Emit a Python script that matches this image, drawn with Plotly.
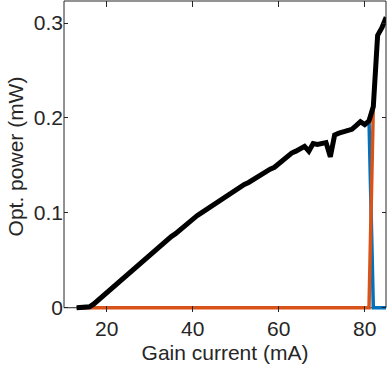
import plotly.graph_objects as go

# gain current (mA)
current = list(range(13, 86))

# total optical power (mW)
total = [
    0.000, 0.000, 0.000, 0.001, 0.004, 0.008, 0.012, 0.016, 0.020, 0.024,  # 13-22
    0.028, 0.032, 0.036, 0.040, 0.044, 0.048, 0.051, 0.055, 0.059, 0.063,  # 23-32
    0.067, 0.071, 0.075, 0.078, 0.082, 0.086, 0.090, 0.094, 0.097, 0.100,  # 33-42
    0.103, 0.107, 0.110, 0.113, 0.116, 0.119, 0.121, 0.124, 0.127, 0.130,  # 43-52
    0.132, 0.135, 0.138, 0.141, 0.144, 0.146, 0.148, 0.152, 0.155, 0.160,  # 53-62
    0.163, 0.165, 0.168, 0.170, 0.165, 0.173, 0.172, 0.173, 0.174, 0.159,  # 63-72
    0.182, 0.184, 0.185, 0.187, 0.188, 0.192, 0.196, 0.193, 0.197, 0.212,  # 73-82
    0.287, 0.295, 0.306,                                                   # 83-85
]

# power in each mode: blue until 81 mA, orange from 82 mA
mode_a = [p if c <= 81 else 0.0 for c, p in zip(current, total)]
mode_b = [0.0 if c <= 81 else p for c, p in zip(current, total)]

axis_col = "#262626"
x_lo, x_hi = 10.05, 84.95
y_hi = 0.3232
y_pad = -0.0045   # a little room under zero so the thick lines are not clipped
zero_frac = -y_pad / (y_hi - y_pad)

fig = go.Figure()
fig.add_trace(go.Scatter(x=current, y=mode_a, mode="lines",
                         line=dict(color="#0072BD", width=3.5)))
fig.add_trace(go.Scatter(x=current, y=mode_b, mode="lines",
                         line=dict(color="#D95319", width=3.5)))
fig.add_trace(go.Scatter(x=current, y=total, mode="lines",
                         line=dict(color="black", width=5)))

# axes box: left/top/right on top, bottom edge (at y = 0) under the traces
fig.add_shape(type="path", xref="paper", yref="paper",
              path=f"M 0,{zero_frac} L 0,1 L 1,1 L 1,{zero_frac}",
              line=dict(color=axis_col, width=1), layer="above")
fig.add_shape(type="line", xref="paper", yref="paper",
              x0=0, x1=1, y0=zero_frac, y1=zero_frac,
              line=dict(color=axis_col, width=1), layer="below")

fig.update_layout(
    width=391, height=378,
    margin=dict(l=64, r=5, t=1, b=66, autoexpand=False),
    paper_bgcolor="white", plot_bgcolor="rgba(0,0,0,0)",
    showlegend=False,
    font=dict(family="Liberation Sans, Arial, sans-serif", size=21, color=axis_col),
)
fig.update_xaxes(
    range=[x_lo, x_hi], tickvals=[20, 40, 60, 80],
    showgrid=False, zeroline=False, showline=False, mirror="ticks",
    ticks="inside", ticklen=6, tickcolor=axis_col, ticklabelstandoff=2,
    title=dict(text="Gain current (mA)", font=dict(size=21), standoff=6),
)
fig.update_yaxes(
    range=[y_pad, y_hi], tickvals=[0, 0.1, 0.2, 0.3],
    showgrid=False, zeroline=False, showline=False, mirror="ticks",
    ticks="inside", ticklen=4, tickcolor=axis_col,
    title=dict(text="Opt. power (mW)", font=dict(size=21), standoff=4),
)

fig.write_html("out.html", config={"displayModeBar": False},
               post_script="document.body.style.margin='0';")
